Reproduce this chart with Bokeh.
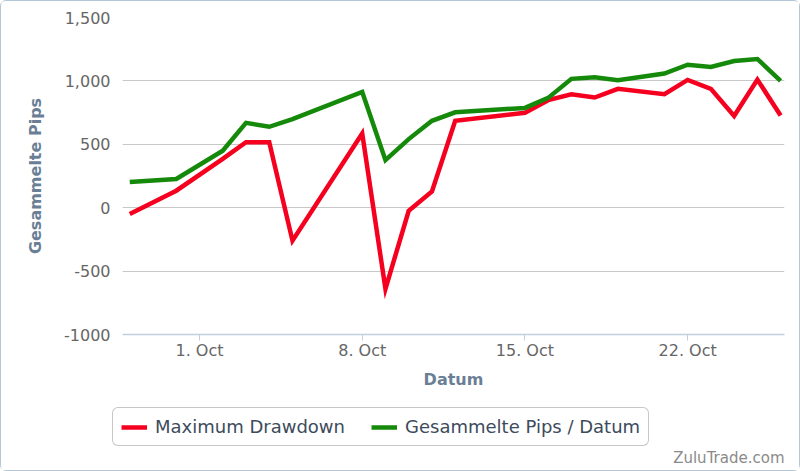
import pandas as pd
from bokeh.plotting import figure
from bokeh.layouts import column
from bokeh.models import (ColumnDataSource, Range1d, FixedTicker, Legend, LegendItem, Label)
from bokeh.embed import file_html
from bokeh.resources import INLINE

# ---- data ----
dates = ["2012-09-28", "2012-09-30", "2012-10-02", "2012-10-03", "2012-10-04",
         "2012-10-05", "2012-10-08", "2012-10-09", "2012-10-10", "2012-10-11",
         "2012-10-12", "2012-10-15", "2012-10-16", "2012-10-17", "2012-10-18",
         "2012-10-19", "2012-10-21", "2012-10-22", "2012-10-23", "2012-10-24",
         "2012-10-25", "2012-10-26"]
gesammelte_pips = [202, 226, 449, 669, 638, 698, 913, 375, 541, 685,
                   752, 787, 866, 1016, 1029, 1005, 1058, 1128, 1110, 1157,
                   1173, 1000]
max_drawdown = [-50, 134, 385, 517, 517, -260, 585, -640, -24, 128,
                685, 748, 848, 895, 869, 937, 895, 1008, 937, 724,
                1010, 727]
x_tick_dates = ["2012-10-01", "2012-10-08", "2012-10-15", "2012-10-22"]
x_tick_labels = ["1. Oct", "8. Oct", "15. Oct", "22. Oct"]
y_ticks = [-1000, -500, 0, 500, 1000, 1500]
y_tick_labels = ["-1000", "-500", "0", "500", "1,000", "1,500"]
series_names = ["Maximum Drawdown", "Gesammelte Pips / Datum"]
series_colors = ["#f5001f", "#158a0a"]
credit_text = "ZuluTrade.com"

FONT = "DejaVu Sans"
W = 798

src = ColumnDataSource(dict(x=pd.to_datetime(dates), dd=max_drawdown, gp=gesammelte_pips))

x_start = pd.Timestamp("2012-09-28") - pd.Timedelta(hours=7.5)
x_end = pd.Timestamp("2012-10-26") + pd.Timedelta(hours=4)

p = figure(width=W, height=395, x_axis_type="datetime",
           x_range=Range1d(x_start, x_end), y_range=Range1d(-1000, 1500),
           output_backend="svg", toolbar_location=None,
           min_border_left=121, min_border_right=15, min_border_top=16,
           min_border_bottom=62)
p.background_fill_color = "white"
p.border_fill_color = "white"
p.outline_line_color = None

p.line("x", "dd", source=src, line_color=series_colors[0], line_width=4.5,
       line_join="miter")
p.line("x", "gp", source=src, line_color=series_colors[1], line_width=4.5,
       line_join="miter")

# x axis
tick_ms = [float(pd.Timestamp(d).value // 10**6) for d in x_tick_dates]
xa = p.xaxis[0]
xa.ticker = FixedTicker(ticks=tick_ms)
xa.major_label_overrides = {t: l for t, l in zip(tick_ms, x_tick_labels)}
xa.axis_line_color = "#c0d0e0"
xa.axis_line_width = 1.5
xa.major_tick_line_color = "#c0d0e0"
xa.major_tick_out = 6
xa.major_tick_in = 0
xa.minor_tick_line_color = None
xa.major_label_standoff = 0
xa.major_label_text_font = FONT
xa.major_label_text_font_size = "16px"
xa.major_label_text_color = "#666666"
xa.axis_label = "Datum"
xa.axis_label_text_font = FONT
xa.axis_label_text_font_size = "16px"
xa.axis_label_text_font_style = "bold"
xa.axis_label_text_color = "#6a7f96"
xa.axis_label_standoff = 7

# y axis
ya = p.yaxis[0]
ya.ticker = FixedTicker(ticks=y_ticks)
ya.major_label_overrides = {t: l for t, l in zip(y_ticks, y_tick_labels)}
ya.axis_line_color = None
ya.major_tick_line_color = None
ya.minor_tick_line_color = None
ya.major_tick_out = 0
ya.major_label_standoff = 12
ya.major_label_text_font = FONT
ya.major_label_text_font_size = "16px"
ya.major_label_text_color = "#666666"
ya.axis_label = "Gesammelte Pips"
ya.axis_label_text_font = FONT
ya.axis_label_text_font_size = "16px"
ya.axis_label_text_font_style = "bold"
ya.axis_label_text_color = "#6a7f96"
ya.axis_label_standoff = 16

p.xgrid.grid_line_color = None
p.ygrid.grid_line_color = "#c8c8c8"
p.ygrid.grid_line_width = 1.2

# ---- legend / credit strip ----
H2 = 74
p2 = figure(width=W, height=H2, x_range=Range1d(0, W), y_range=Range1d(0, H2),
            output_backend="svg", toolbar_location=None,
            x_axis_location=None, y_axis_location=None,
            min_border_left=0, min_border_right=0, min_border_top=0,
            min_border_bottom=0)
p2.background_fill_color = "white"
p2.border_fill_color = "white"
p2.outline_line_color = None
p2.xgrid.grid_line_color = None
p2.ygrid.grid_line_color = None
for fig in (p, p2):
    if "frame_align" in fig.properties():
        fig.frame_align = False

nan = float("nan")
lr = [p2.line(x=[nan], y=[nan], line_color=c, line_width=4.5) for c in series_colors]

legend = Legend(items=[LegendItem(label=n, renderers=[r]) for n, r in zip(series_names, lr)],
                orientation="horizontal", location=(111, 24), margin=0,
                padding=8, spacing=26, label_standoff=8, glyph_width=26,
                glyph_height=20, label_text_font=FONT, label_text_font_size="18px",
                label_text_color="#3d4b5c", border_line_color="#909090",
                border_line_width=1, background_fill_color="white",
                background_fill_alpha=1)
if "border_radius" in Legend.properties():
    legend.border_radius = 6
p2.add_layout(legend, "center")

credit = Label(x=783, y=13, x_units="screen", y_units="screen",
               text=credit_text, text_align="right", text_baseline="middle",
               text_font=FONT, text_font_size="15px", text_color="#8a8a8a")
p2.add_layout(credit)

layout = column(p, p2, spacing=0)
layout.styles = {"border": "1px solid #b4c6d8", "border-radius": "6px"}

open("out.html", "w").write(file_html(layout, INLINE))
